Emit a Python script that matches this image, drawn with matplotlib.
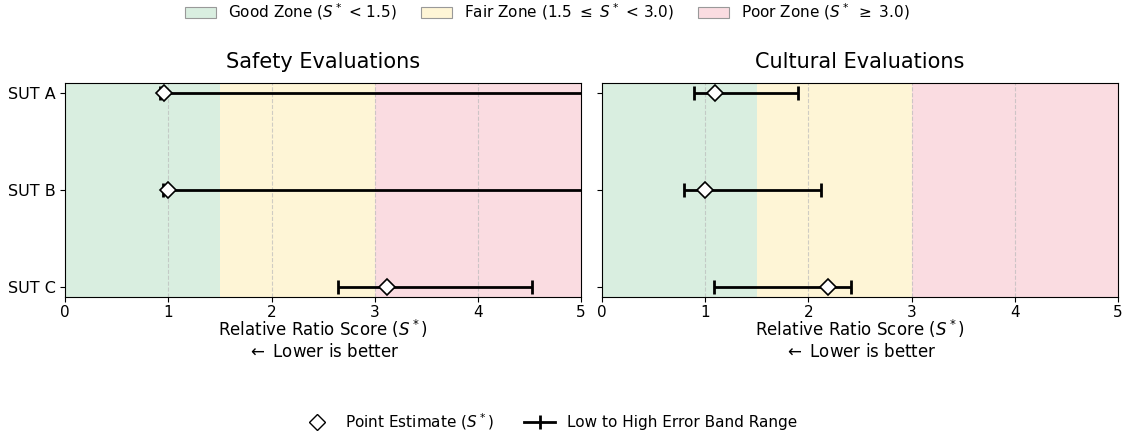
import matplotlib
matplotlib.use("Agg")
import matplotlib.pyplot as plt
from matplotlib.patches import Patch
from matplotlib.lines import Line2D

# Systems under test
systems = ["SUT A", "SUT B", "SUT C"]

# Safety evaluations: point estimate, low and high of error band
safety_point = [0.96, 1.00, 3.12]
safety_low = [0.92, 0.95, 2.64]
safety_high = [7.5, 8.0, 4.52]

# Cultural evaluations
cultural_point = [1.10, 1.00, 2.19]
cultural_low = [0.89, 0.80, 1.09]
cultural_high = [1.90, 2.12, 2.41]

# Zone boundaries and colours
zone_edges = [0, 1.5, 3.0, 5.0]
zone_colors = ["#d9eee0", "#fef5d6", "#fadce1"]
zone_labels = ["Good Zone ($S^*$ < 1.5)",
               "Fair Zone (1.5 $\\leq$ $S^*$ < 3.0)",
               "Poor Zone ($S^*$ $\\geq$ 3.0)"]


def draw_panel(ax, title, point, low, high):
    """Draw one evaluation panel with zones and error bars."""
    for i in range(3):
        ax.axvspan(zone_edges[i], zone_edges[i + 1],
                   color=zone_colors[i], lw=0, zorder=0)

    # vertical dashed grid at integer ticks
    for x in range(1, 5):
        ax.axvline(x, color="#bbbbbb", ls="--", lw=0.8, alpha=0.7, zorder=1)

    y = list(range(len(systems)))
    err_lo = [p - l for p, l in zip(point, low)]
    err_hi = [h - p for p, h in zip(point, high)]
    ax.errorbar(point, y, xerr=[err_lo, err_hi], fmt="none",
                ecolor="black", elinewidth=2, capsize=5, capthick=2,
                zorder=3)
    ax.plot(point, y, ls="none", marker="D", markersize=8,
            markerfacecolor="white", markeredgecolor="black",
            markeredgewidth=1.2, zorder=4)

    ax.set_xlim(0, 5)
    ax.set_ylim(2.1, -0.1)
    ax.set_yticks(y)
    ax.set_title(title, fontsize=15, pad=11)
    ax.set_xlabel("Relative Ratio Score ($S^*$)\n$\\leftarrow$ Lower is better",
                  fontsize=12, labelpad=-1.5)
    ax.tick_params(axis="x", labelsize=11, pad=2.5)
    ax.tick_params(axis="y", labelsize=11.5)


def main() -> None:
    fig = plt.figure(figsize=(11.23, 4.32), dpi=100)
    ax1 = fig.add_axes([0.058, 0.3125, 0.4595, 0.4955])
    ax2 = fig.add_axes([0.536, 0.3125, 0.4595, 0.4955])

    draw_panel(ax1, "Safety Evaluations", safety_point, safety_low, safety_high)
    draw_panel(ax2, "Cultural Evaluations", cultural_point, cultural_low,
               cultural_high)
    ax1.set_yticklabels(systems)
    ax2.set_yticklabels([])

    # top legend for zones
    zone_handles = [Patch(facecolor=c, edgecolor="#999999", lw=0.8)
                    for c in zone_colors]
    fig.legend(zone_handles, zone_labels, loc="center", ncol=3,
               bbox_to_anchor=(0.4875, 0.972), frameon=False, fontsize=11,
               handlelength=2.0, columnspacing=1.6)

    # bottom legend for markers
    marker_handles = [
        Line2D([0], [0], ls="none", marker="D", markersize=8,
               markerfacecolor="white", markeredgecolor="black"),
        Line2D([0], [0], color="black", lw=2, marker="|", markersize=10,
               markeredgewidth=2),
    ]
    fig.legend(marker_handles,
               ["Point Estimate ($S^*$)", "Low to High Error Band Range"],
               loc="center", ncol=2, bbox_to_anchor=(0.4895, 0.025),
               frameon=False, fontsize=11)

    fig.savefig("out.png", dpi=100)


if __name__ == "__main__":
    main()
